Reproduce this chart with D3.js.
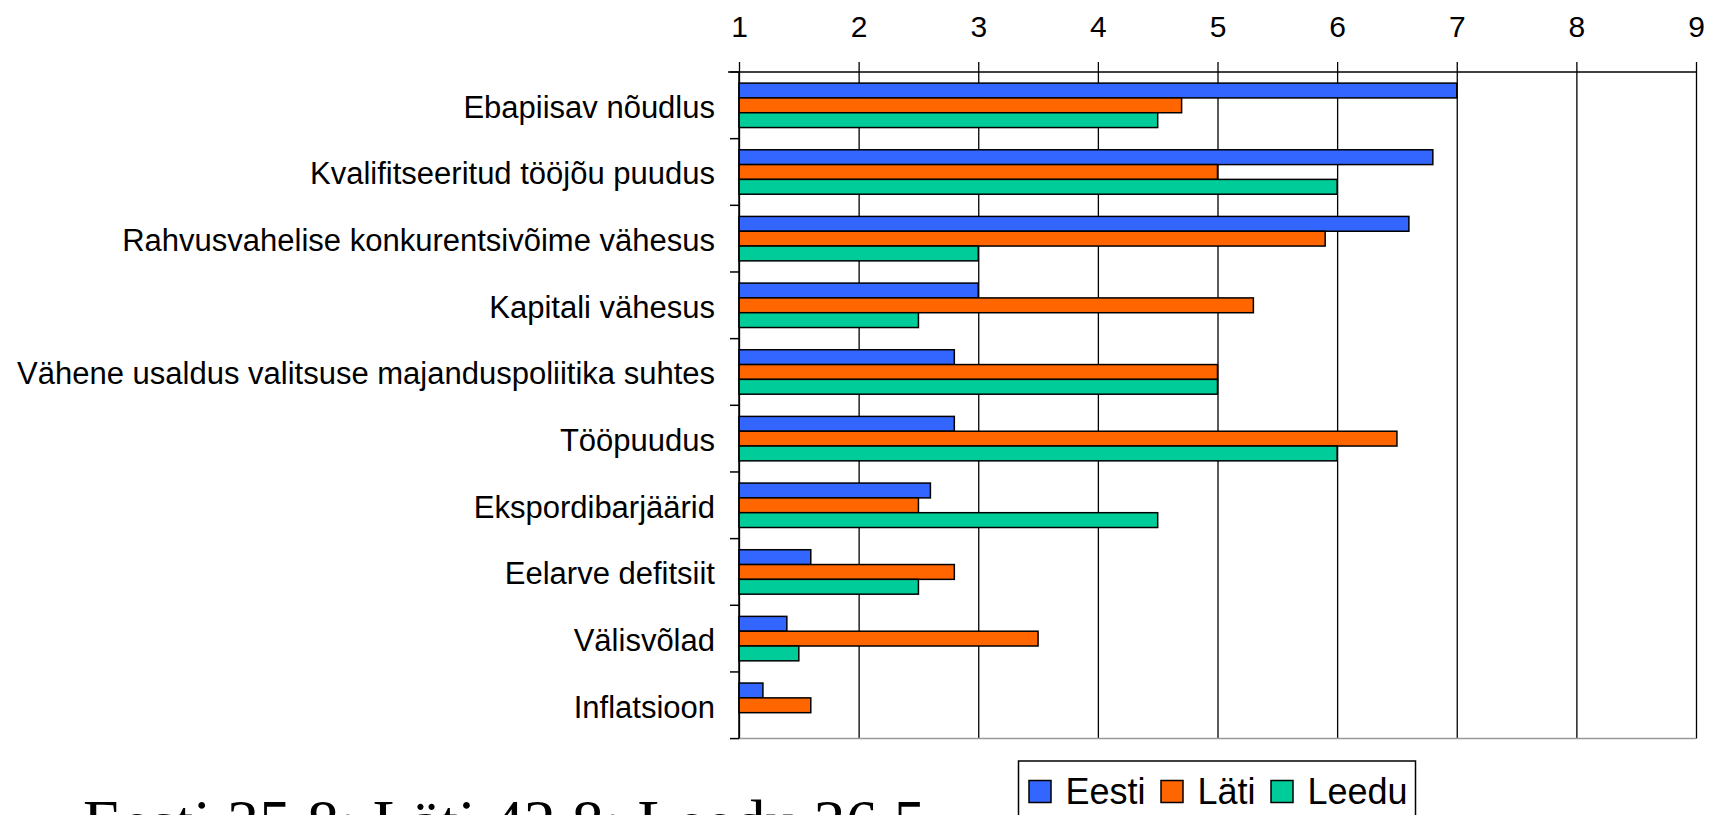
<!DOCTYPE html>
<html>
<head>
<meta charset="utf-8">
<script src="https://cdn.jsdelivr.net/npm/d3@7"></script>
<style>
  html, body { margin: 0; padding: 0; background: #fff; overflow: hidden; }
  svg { display: block; }
</style>
</head>
<body>
<script>
const categories = [
  "Ebapiisav nõudlus",
  "Kvalifitseeritud tööjõu puudus",
  "Rahvusvahelise konkurentsivõime vähesus",
  "Kapitali vähesus",
  "Vähene usaldus valitsuse majanduspoliitika suhtes",
  "Tööpuudus",
  "Ekspordibarjäärid",
  "Eelarve defitsiit",
  "Välisvõlad",
  "Inflatsioon"
];
const seriesNames = ["Eesti", "Läti", "Leedu"];
const eesti = [7.0, 6.8, 6.6, 3.0, 2.8, 2.8, 2.6, 1.6, 1.4, 1.2];
const lati  = [4.7, 5.0, 5.9, 5.3, 5.0, 6.5, 2.5, 2.8, 3.5, 1.6];
const leedu = [4.5, 6.0, 3.0, 2.5, 5.0, 6.0, 4.5, 2.5, 1.5, null];
const seriesColors = ["#3366FF", "#FF6600", "#00CC99"];
const xTicks = [1, 2, 3, 4, 5, 6, 7, 8, 9];
const footnote = "Eesti 35,8; Läti 42,8; Leedu 36,5";

(function () {
const W = 1713, H = 815;
const SANS = "'Liberation Sans', Arial, sans-serif";
const SERIF = "'Liberation Serif', 'Times New Roman', serif";
const svg = d3.select("body").append("svg").attr("width", W).attr("height", H);

const pL = 739, pR = 1696, pT = 72, pB = 738.6;
const x = d3.scaleLinear().domain([1, 9]).range([pL, pR]);
const y = d3.scaleBand().domain(categories).range([pT, pB]).paddingInner(0).paddingOuter(0);
const ys = d3.scaleBand().domain(seriesNames).range([0, y.bandwidth()]).paddingInner(0).paddingOuter(0.75);
const color = d3.scaleOrdinal().domain(seriesNames).range(seriesColors);
const seriesData = [eesti, lati, leedu];

// gridlines
const grid = svg.append("g").attr("transform", `translate(0,${pT})`)
  .call(d3.axisTop(x).tickValues(xTicks).tickSize(-(pB - pT)).tickFormat(""));
grid.select(".domain").remove();
grid.selectAll(".tick line").attr("stroke", "#000").attr("stroke-width", 1.3);

// bottom axis (grey)
svg.append("line").attr("x1", x(1)).attr("x2", x(9)).attr("y1", pB).attr("y2", pB)
  .attr("stroke", "#999").attr("stroke-width", 1.5);

// top axis with labels
const xa = svg.append("g").attr("transform", `translate(0,${pT})`)
  .call(d3.axisTop(x).tickValues(xTicks).tickSize(10).tickPadding(25).tickFormat(d3.format("d")));
xa.select(".domain").remove();
xa.selectAll(".tick line").attr("stroke", "#000").attr("stroke-width", 1.3);
xa.selectAll(".tick text").style("font-size", "30px").style("font-family", SANS).attr("fill", "#000");
svg.append("line").attr("x1", pL - 11).attr("x2", x(9)).attr("y1", pT).attr("y2", pT)
  .attr("stroke", "#000").attr("stroke-width", 1.5);

// bars
const groups = svg.append("g").selectAll("g").data(categories).join("g")
  .attr("transform", d => `translate(0,${y(d)})`);
groups.selectAll("rect")
  .data((c, i) => seriesNames.map((s, k) => ({ s, v: seriesData[k][i] })).filter(d => d.v != null))
  .join("rect")
  .attr("x", x(1))
  .attr("y", d => ys(d.s))
  .attr("width", d => x(d.v) - x(1))
  .attr("height", ys.bandwidth())
  .attr("fill", d => color(d.s))
  .attr("stroke", "#000")
  .attr("stroke-width", 1.5);

// left axis
svg.append("line").attr("x1", pL).attr("x2", pL).attr("y1", pT).attr("y2", pB)
  .attr("stroke", "#000").attr("stroke-width", 1.5);
const bounds = categories.map(c => y(c)).concat([pB]);
svg.append("g").selectAll("line").data(bounds).join("line")
  .attr("x1", pL - 9).attr("x2", pL).attr("y1", d => d).attr("y2", d => d)
  .attr("stroke", "#000").attr("stroke-width", 1.5);

const ya = svg.append("g").attr("transform", `translate(${pL},0)`)
  .call(d3.axisLeft(y).tickSize(0).tickPadding(24));
ya.select(".domain").remove();
ya.selectAll(".tick text").style("font-size", "31px").style("font-family", SANS)
  .attr("fill", "#000").attr("dy", "0.4em");

// legend
const lg = svg.append("g");
lg.append("rect").attr("x", 1018.5).attr("y", 761).attr("width", 397).attr("height", 80)
  .attr("fill", "#fff").attr("stroke", "#000").attr("stroke-width", 1.5);
const legX = [1029, 1161, 1271];
seriesNames.forEach((s, k) => {
  lg.append("rect").attr("x", legX[k]).attr("y", 780.5).attr("width", 22).attr("height", 22)
    .attr("fill", color(s)).attr("stroke", "#000").attr("stroke-width", 1.5);
  lg.append("text").attr("x", legX[k] + 36.5).attr("y", 804)
    .style("font-size", "36px").style("font-family", SANS).attr("fill", "#000").text(s);
});

// footnote (clipped at bottom, as in the reference)
svg.append("text").attr("x", 83).attr("y", 844)
  .style("font-family", SERIF).style("font-size", "64px").attr("fill", "#000")
  .text(footnote);
})();
</script>
</body>
</html>
